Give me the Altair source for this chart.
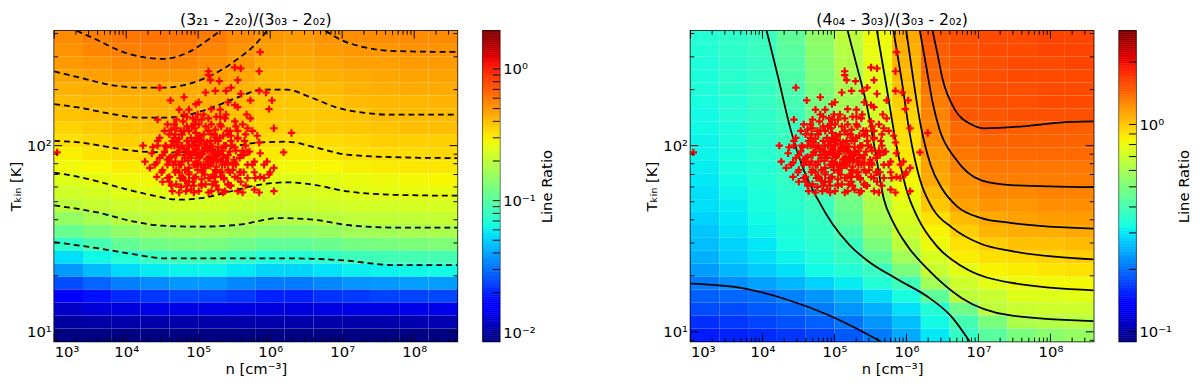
import altair as alt
import pandas as pd
import numpy as np

FONT = "DejaVu Sans"
W, H = 410, 316
CBW = 17

# ---- model grid (log10 n, log10 T) ----
LOGN_EDGES = [3.0, 3.4, 3.8, 4.2, 4.6, 5.0, 5.4, 5.8, 6.2, 6.6, 7.0, 7.4, 7.8, 8.2, 8.6]
LOGT_EDGES = [2.617, 2.547, 2.478, 2.408, 2.339, 2.269, 2.200, 2.130, 2.061, 1.991,
              1.922, 1.852, 1.783, 1.713, 1.644, 1.574, 1.505, 1.435, 1.366, 1.296,
              1.227, 1.157, 1.088, 1.018, 0.948]

# log10(line ratio), rows from top (high T) to bottom, columns low n -> high n
LEFT_LOG_RATIO = [
    [-0.27, -0.24, -0.22, -0.21, -0.21, -0.23, -0.27, -0.30, -0.31, -0.29, -0.28, -0.27, -0.27, -0.27],
    [-0.29, -0.26, -0.24, -0.23, -0.23, -0.25, -0.29, -0.32, -0.33, -0.31, -0.30, -0.30, -0.29, -0.29],
    [-0.31, -0.29, -0.27, -0.26, -0.26, -0.28, -0.31, -0.35, -0.35, -0.34, -0.32, -0.32, -0.31, -0.31],
    [-0.34, -0.32, -0.31, -0.30, -0.30, -0.31, -0.34, -0.38, -0.38, -0.36, -0.35, -0.34, -0.33, -0.33],
    [-0.37, -0.36, -0.35, -0.35, -0.35, -0.35, -0.37, -0.39, -0.40, -0.39, -0.37, -0.36, -0.35, -0.35],
    [-0.39, -0.38, -0.37, -0.36, -0.36, -0.37, -0.39, -0.42, -0.42, -0.41, -0.39, -0.38, -0.38, -0.37],
    [-0.41, -0.40, -0.39, -0.38, -0.38, -0.39, -0.41, -0.43, -0.43, -0.42, -0.41, -0.39, -0.39, -0.39],
    [-0.45, -0.43, -0.41, -0.40, -0.40, -0.41, -0.43, -0.44, -0.44, -0.43, -0.42, -0.41, -0.40, -0.40],
    [-0.48, -0.46, -0.44, -0.44, -0.44, -0.45, -0.46, -0.47, -0.48, -0.47, -0.46, -0.44, -0.44, -0.44],
    [-0.52, -0.49, -0.47, -0.46, -0.46, -0.48, -0.49, -0.51, -0.51, -0.50, -0.48, -0.47, -0.47, -0.46],
    [-0.56, -0.54, -0.51, -0.50, -0.50, -0.52, -0.54, -0.55, -0.55, -0.54, -0.52, -0.51, -0.50, -0.50],
    [-0.61, -0.58, -0.56, -0.55, -0.55, -0.56, -0.58, -0.60, -0.60, -0.59, -0.57, -0.56, -0.55, -0.54],
    [-0.65, -0.63, -0.60, -0.59, -0.58, -0.59, -0.61, -0.63, -0.63, -0.62, -0.60, -0.59, -0.58, -0.58],
    [-0.71, -0.68, -0.66, -0.65, -0.64, -0.64, -0.65, -0.67, -0.67, -0.65, -0.64, -0.64, -0.63, -0.63],
    [-0.82, -0.77, -0.72, -0.70, -0.69, -0.69, -0.71, -0.73, -0.73, -0.71, -0.70, -0.69, -0.69, -0.68],
    [-0.95, -0.89, -0.83, -0.79, -0.78, -0.78, -0.80, -0.83, -0.83, -0.81, -0.78, -0.78, -0.77, -0.76],
    [-1.11, -1.04, -0.96, -0.92, -0.90, -0.90, -0.93, -0.97, -0.97, -0.94, -0.91, -0.90, -0.89, -0.88],
    [-1.26, -1.20, -1.14, -1.09, -1.06, -1.06, -1.10, -1.15, -1.15, -1.11, -1.07, -1.06, -1.05, -1.04],
    [-1.42, -1.34, -1.27, -1.23, -1.21, -1.21, -1.24, -1.28, -1.28, -1.25, -1.22, -1.21, -1.20, -1.19],
    [-1.60, -1.54, -1.48, -1.45, -1.42, -1.42, -1.46, -1.49, -1.49, -1.46, -1.43, -1.42, -1.41, -1.41],
    [-1.78, -1.74, -1.68, -1.65, -1.62, -1.62, -1.65, -1.70, -1.70, -1.66, -1.64, -1.62, -1.62, -1.61],
    [-1.92, -1.89, -1.88, -1.86, -1.86, -1.86, -1.87, -1.88, -1.88, -1.87, -1.86, -1.86, -1.85, -1.85],
    [-2.00, -1.99, -1.98, -1.98, -1.98, -1.98, -1.98, -1.98, -1.98, -1.98, -1.98, -1.98, -1.97, -1.97],
    [-2.06, -2.06, -2.06, -2.06, -2.06, -2.06, -2.06, -2.06, -2.06, -2.06, -2.06, -2.06, -2.06, -2.06],
]

RIGHT_LOG_RATIO = [
    [-0.46, -0.44, -0.42, -0.35, -0.26, -0.18, -0.09, 0.05, 0.18, 0.19, 0.20, 0.20, 0.21, 0.21],
    [-0.46, -0.44, -0.42, -0.36, -0.27, -0.19, -0.10, 0.04, 0.17, 0.19, 0.20, 0.20, 0.21, 0.21],
    [-0.47, -0.45, -0.43, -0.37, -0.28, -0.20, -0.10, 0.03, 0.16, 0.18, 0.19, 0.20, 0.20, 0.21],
    [-0.47, -0.45, -0.43, -0.38, -0.29, -0.21, -0.11, 0.02, 0.15, 0.18, 0.19, 0.20, 0.20, 0.20],
    [-0.47, -0.45, -0.43, -0.39, -0.30, -0.22, -0.12, 0.01, 0.13, 0.18, 0.19, 0.19, 0.20, 0.20],
    [-0.48, -0.46, -0.43, -0.40, -0.31, -0.23, -0.13, -0.01, 0.12, 0.18, 0.19, 0.19, 0.20, 0.20],
    [-0.49, -0.46, -0.44, -0.41, -0.32, -0.24, -0.14, -0.02, 0.11, 0.18, 0.18, 0.19, 0.19, 0.19],
    [-0.49, -0.47, -0.44, -0.42, -0.33, -0.24, -0.15, -0.03, 0.10, 0.15, 0.18, 0.17, 0.17, 0.17],
    [-0.50, -0.47, -0.45, -0.42, -0.34, -0.25, -0.16, -0.04, 0.09, 0.15, 0.16, 0.16, 0.16, 0.16],
    [-0.50, -0.48, -0.45, -0.42, -0.35, -0.26, -0.17, -0.05, 0.07, 0.13, 0.15, 0.15, 0.15, 0.15],
    [-0.51, -0.48, -0.46, -0.43, -0.36, -0.27, -0.18, -0.06, 0.06, 0.11, 0.13, 0.13, 0.13, 0.13],
    [-0.52, -0.49, -0.46, -0.43, -0.38, -0.28, -0.19, -0.08, 0.05, 0.09, 0.12, 0.12, 0.12, 0.12],
    [-0.53, -0.50, -0.47, -0.44, -0.40, -0.30, -0.19, -0.09, 0.02, 0.08, 0.10, 0.10, 0.11, 0.11],
    [-0.53, -0.51, -0.48, -0.45, -0.42, -0.32, -0.21, -0.11, 0.00, 0.06, 0.08, 0.08, 0.09, 0.09],
    [-0.55, -0.52, -0.49, -0.46, -0.43, -0.34, -0.23, -0.13, -0.04, 0.02, 0.05, 0.06, 0.07, 0.07],
    [-0.57, -0.53, -0.50, -0.47, -0.44, -0.38, -0.26, -0.15, -0.07, -0.01, 0.03, 0.04, 0.04, 0.05],
    [-0.58, -0.55, -0.52, -0.48, -0.45, -0.42, -0.30, -0.18, -0.09, -0.04, -0.01, 0.01, 0.01, 0.02],
    [-0.60, -0.56, -0.53, -0.50, -0.47, -0.43, -0.35, -0.23, -0.13, -0.06, -0.04, -0.03, -0.02, -0.01],
    [-0.63, -0.59, -0.56, -0.53, -0.49, -0.46, -0.42, -0.30, -0.16, -0.11, -0.07, -0.06, -0.05, -0.04],
    [-0.68, -0.65, -0.62, -0.59, -0.55, -0.51, -0.46, -0.41, -0.23, -0.15, -0.11, -0.09, -0.08, -0.08],
    [-0.72, -0.71, -0.70, -0.67, -0.64, -0.60, -0.54, -0.48, -0.35, -0.18, -0.16, -0.12, -0.12, -0.11],
    [-0.75, -0.75, -0.73, -0.71, -0.68, -0.64, -0.60, -0.53, -0.46, -0.32, -0.18, -0.16, -0.15, -0.15],
    [-0.79, -0.78, -0.76, -0.74, -0.72, -0.69, -0.64, -0.58, -0.49, -0.40, -0.30, -0.21, -0.20, -0.19],
    [-0.82, -0.81, -0.80, -0.78, -0.76, -0.73, -0.68, -0.61, -0.52, -0.43, -0.36, -0.30, -0.27, -0.25],
]

# colour-bar ranges (log10 of line ratio)
LEFT_CBAR_LOG = (-2.07, 0.29)
RIGHT_CBAR_LOG = (-1.047, 0.452)

# contour lines: (log10 n, log10 T)
LEFT_CONTOURS = {
    "a": ([3.312, 3.583, 3.922, 4.505, 4.871, 5.142, 5.305],
          [2.617, 2.570, 2.508, 2.466, 2.503, 2.570, 2.617]),
    "b1": ([3.0, 3.380, 3.786, 4.193, 4.532, 4.871, 5.210, 5.549, 5.793, 5.956],
           [2.399, 2.363, 2.326, 2.311, 2.311, 2.332, 2.383, 2.466, 2.544, 2.617]),
    "b2": ([6.769, 6.973, 7.312, 7.719, 8.6],
           [2.617, 2.570, 2.528, 2.508, 2.503]),
    "c": ([3.0, 3.380, 3.786, 4.193, 4.532, 4.871, 5.210, 5.549, 5.888, 6.227, 6.566, 6.905, 7.312, 7.719, 8.6],
          [2.223, 2.202, 2.171, 2.150, 2.150, 2.166, 2.207, 2.259, 2.301, 2.301, 2.259, 2.207, 2.176, 2.166, 2.166]),
    "d": ([3.0, 3.380, 3.786, 4.193, 4.600, 5.007, 5.414, 5.820, 6.227, 6.634, 7.041, 7.719, 8.6],
          [2.026, 2.016, 1.990, 1.969, 1.964, 1.969, 1.990, 2.016, 2.021, 1.990, 1.953, 1.938, 1.933]),
    "e": ([3.0, 3.380, 3.651, 3.990, 4.329, 4.736, 5.075, 5.414, 5.820, 6.227, 6.634, 7.041, 7.719, 8.6],
          [1.855, 1.829, 1.803, 1.767, 1.736, 1.710, 1.720, 1.751, 1.788, 1.803, 1.788, 1.756, 1.736, 1.731]),
    "f": ([3.0, 3.651, 4.058, 4.505, 5.007, 5.549, 6.132, 6.634, 7.041, 7.719, 8.6],
          [1.679, 1.637, 1.596, 1.570, 1.565, 1.575, 1.611, 1.601, 1.575, 1.560, 1.560]),
    "g": ([3.0, 3.651, 4.058, 4.559, 5.278, 6.363, 7.041, 7.719, 8.6],
          [1.482, 1.446, 1.420, 1.394, 1.394, 1.394, 1.383, 1.358, 1.358]),
}

RIGHT_CONTOURS = {
    "r1": ([3.0, 3.678, 4.356, 4.898, 5.264, 5.644],
           [1.259, 1.238, 1.171, 1.093, 1.026, 0.948]),
    "r2": ([4.058, 4.220, 4.397, 4.573, 4.763, 4.980, 5.210, 5.454, 5.861, 6.322, 6.634, 6.878],
           [2.617, 2.363, 2.078, 1.870, 1.715, 1.575, 1.466, 1.383, 1.285, 1.181, 1.078, 0.948]),
    "r3": ([5.183, 5.319, 5.454, 5.576, 5.685, 5.820, 6.024, 6.322, 6.769, 7.447, 8.6],
           [2.617, 2.415, 2.207, 1.948, 1.715, 1.585, 1.456, 1.326, 1.181, 1.088, 1.057]),
    "r4": ([5.590, 5.725, 5.861, 5.997, 6.159, 6.431, 6.769, 7.447, 8.6],
           [2.617, 2.311, 2.000, 1.767, 1.611, 1.456, 1.352, 1.264, 1.223]),
    "r5": ([5.820, 5.929, 6.051, 6.186, 6.363, 6.634, 7.041, 7.447, 8.6],
           [2.617, 2.363, 2.052, 1.819, 1.663, 1.560, 1.472, 1.435, 1.389]),
    "r6": ([5.997, 6.092, 6.200, 6.336, 6.498, 6.702, 7.041, 7.447, 8.6],
           [2.617, 2.363, 2.104, 1.896, 1.767, 1.674, 1.611, 1.585, 1.554]),
    "r7": ([6.186, 6.268, 6.363, 6.458, 6.675, 7.041, 7.447, 8.6],
           [2.617, 2.440, 2.233, 2.088, 1.933, 1.813, 1.788, 1.777]),
    "r8": ([6.363, 6.431, 6.498, 6.675, 6.905, 7.081, 7.624, 8.125, 8.6],
           [2.617, 2.492, 2.363, 2.192, 2.114, 2.093, 2.104, 2.124, 2.130]),
}

# observed sources: log10 n and T [K]
SRC_LOGN = [5.142, 5.169, 5.292, 5.549, 5.847, 5.590, 4.464, 4.614, 4.803, 5.007,
            5.102, 5.237, 5.386, 5.590, 5.847, 5.942, 5.725, 5.414, 5.508, 6.024,
            4.736, 4.871, 5.183, 5.305, 5.549, 5.983, 4.437, 4.695, 4.844, 4.966,
            5.142, 5.251, 5.373, 5.508, 5.671, 5.725, 4.695, 4.912, 5.102, 5.319,
            5.685, 6.051, 6.295, 4.600, 4.776, 4.966, 5.183, 5.414, 5.658, 5.820,
            4.437, 4.641, 4.844, 5.034, 5.237, 5.454, 5.644, 5.847, 4.234, 4.370,
            4.559, 4.736, 4.912, 5.102, 5.278, 5.508, 5.685, 5.861, 6.186, 4.356,
            4.505, 4.695, 4.871, 5.047, 5.237, 5.414, 5.590, 4.261, 4.424, 4.600,
            4.776, 4.966, 5.142, 5.319, 5.508, 5.780, 5.915, 6.051, 5.983, 4.329,
            4.505, 4.695, 4.871, 5.047, 5.237, 5.414, 5.590, 5.780, 5.861, 4.424,
            4.600, 4.776, 4.966, 5.142, 5.319, 5.508, 5.685, 4.505, 4.695, 4.871,
            5.047, 5.237, 5.414, 5.590, 5.780, 6.051, 4.641, 4.831, 5.007, 5.183,
            5.373, 5.549, 5.861, 5.508, 5.142, 5.997, 3.040, 4.803, 5.007, 5.183,
            4.939, 5.142, 5.346, 5.075, 4.871, 5.210, 5.481, 4.736, 5.007, 4.803,
            5.346, 5.617, 4.939, 5.278, 4.573, 4.668, 5.549, 5.915, 5.956, 5.454,
            4.966, 4.573, 4.681, 4.790, 4.898, 4.993, 5.088, 5.183, 5.292, 5.400,
            5.495, 4.627, 4.736, 4.844, 4.939, 5.047, 5.156, 5.251, 5.359, 5.468,
            5.576, 4.546, 4.654, 4.763, 4.871, 4.980, 5.075, 5.197, 5.305, 5.414,
            5.522, 5.631, 4.708, 4.817, 4.925, 5.034, 5.129, 5.224, 5.332, 5.441,
            5.549, 4.600, 4.803, 5.007, 5.210, 5.386, 5.088, 4.898, 5.278, 5.481,
            5.685, 4.627, 4.736, 4.844, 4.953, 5.047, 5.142, 5.237, 5.346, 5.454,
            4.681, 4.790, 4.898, 4.993, 5.102, 5.210, 5.305, 5.414, 5.522, 4.708,
            4.817, 4.925, 5.020, 5.115, 5.224, 5.332, 5.169, 4.953, 4.776, 5.373,
            4.980, 5.060, 5.130, 5.210, 4.900, 5.000, 5.090, 5.170, 5.250, 4.950,
            5.040, 5.120, 5.200, 4.860, 4.930, 5.020, 5.100, 5.180, 5.270, 5.300,
            4.803, 5.075, 5.386, 4.668, 4.939, 5.305, 5.617, 4.532, 4.763, 5.142,
            5.441, 5.753, 4.464, 4.668, 4.980, 5.251, 5.549, 4.437, 4.627, 4.871,
            5.169, 5.359, 5.658, 4.532, 4.736, 4.953, 5.061, 5.278, 5.441, 5.712,
            4.464, 4.600, 4.817, 5.007, 5.197, 5.386, 5.576, 4.397, 4.573, 4.763,
            4.966, 5.142, 5.332, 5.522, 5.753, 4.492, 4.681, 4.871, 5.061, 5.251,
            5.441, 5.631, 4.573, 4.749, 4.939, 5.169, 5.359, 5.549, 5.793, 4.627,
            4.844, 5.047, 5.251, 5.454, 5.658, 4.736, 4.939, 5.142, 5.346, 5.617,
            5.847]
SRC_T = [251, 225, 222, 225, 251, 260, 205, 175, 182, 171,
         193, 197, 197, 190, 197, 193, 175, 171, 165, 175,
         156, 156, 157, 156, 161, 157, 138, 138, 143, 138,
         140, 143, 140, 135, 147, 140, 124, 127, 127, 127,
         124, 124, 117, 115, 115, 117, 115, 115, 115, 113,
         106, 106, 106, 106, 106, 106, 106, 104, 100, 98,
         98, 98, 100, 98, 98, 98, 92, 91, 92, 91,
         89, 89, 91, 91, 89, 89, 89, 82, 81, 82,
         82, 82, 81, 82, 81, 82, 79, 76, 70, 76,
         74, 74, 76, 74, 74, 74, 72, 72, 68, 68,
         68, 68, 68, 67, 68, 68, 67, 64, 62, 64,
         62, 64, 62, 64, 58, 57, 57, 57, 57, 57,
         57, 57, 318, 263, 239, 72, 92, 96, 89, 94,
         106, 120, 89, 79, 70, 70, 79, 79, 130, 120,
         113, 94, 61, 58, 84, 100, 120, 67, 82, 205,
         167, 130, 115, 135, 110, 147, 102, 130, 91, 120,
         84, 87, 72, 94, 79, 66, 87, 77, 66, 100,
         72, 100, 79, 60, 120, 89, 115, 62, 143, 81,
         127, 89, 104, 65, 140, 79, 94, 115, 72, 61,
         109, 64, 89, 100, 84, 100, 70, 58, 106, 74,
         79, 122, 109, 127, 104, 138, 96, 122, 86, 113,
         82, 67, 89, 74, 62, 82, 72, 62, 94, 92,
         74, 64, 113, 84, 68, 94, 106, 124, 100, 79,
         95, 90, 85, 92, 86, 80, 97, 78, 88, 101,
         108, 104, 99, 83, 93, 87, 76, 95, 84, 110,
         147, 147, 147, 130, 130, 130, 130, 120, 120, 120,
         120, 120, 110, 110, 110, 110, 110, 100, 100, 100,
         100, 100, 100, 93, 93, 93, 93, 93, 93, 93,
         86, 86, 86, 86, 86, 86, 86, 79, 79, 79,
         79, 79, 79, 79, 79, 72, 72, 72, 72, 72,
         72, 72, 67, 67, 67, 67, 67, 67, 67, 61,
         61, 61, 61, 61, 61, 56, 56, 56, 56, 56,
         56]

N_MAJOR_EXP = [3, 4, 5, 6, 7, 8]
T_MAJOR_EXP = [1, 2]

TITLE_LEFT = "(3₂₁ - 2₂₀)/(3₀₃ - 2₀₂)"
TITLE_RIGHT = "(4₀₄ - 3₀₃)/(3₀₃ - 2₀₂)"
X_TITLE = "n [cm⁻³]"
Y_TITLE = "Tₖᵢₙ [K]"
CB_TITLE = "Line Ratio"

# ---- jet colormap (matplotlib segment definition), sampled uniformly ----
_ts = np.linspace(0, 1, 41)
_r = np.interp(_ts, [0, 0.35, 0.66, 0.89, 1], [0, 0, 1, 1, 0.5])
_g = np.interp(_ts, [0, 0.125, 0.375, 0.64, 0.91, 1], [0, 0, 1, 1, 0, 0])
_b = np.interp(_ts, [0, 0.11, 0.34, 0.65, 1], [0.5, 1, 1, 0, 0])
JET = ["#%02x%02x%02x" % (int(round(r * 255)), int(round(g * 255)), int(round(b * 255)))
       for r, g, b in zip(_r, _g, _b)]

SUP = {"0": "⁰", "1": "¹", "2": "²", "3": "³", "4": "⁴", "5": "⁵",
       "6": "⁶", "7": "⁷", "8": "⁸", "9": "⁹", "-": "⁻"}


def pow_label(e):
    return "10" + "".join(SUP[ch] for ch in str(e))


def label_expr(exps):
    items = ", ".join("'%s': '%s'" % (str(10 ** e), pow_label(e)) for e in exps)
    return "({%s})[datum.value] || ''" % items


xs = alt.Scale(type="log", domain=[10 ** LOGN_EDGES[0], 10 ** LOGN_EDGES[-1]], nice=False)
ys = alt.Scale(type="log", domain=[10 ** LOGT_EDGES[-1], 10 ** LOGT_EDGES[0]], nice=False)
X_AXIS = alt.Axis(values=[10 ** e for e in N_MAJOR_EXP], labelExpr=label_expr(N_MAJOR_EXP))
Y_AXIS = alt.Axis(values=[10 ** e for e in T_MAJOR_EXP], labelExpr=label_expr(T_MAJOR_EXP))

N_MINOR = [k * 10 ** e for e in range(3, 9) for k in range(2, 10) if k * 10 ** e <= 10 ** LOGN_EDGES[-1]]
T_MINOR = [9] + [k * 10 for k in range(2, 10)] + [200, 300, 400]


def X(field):
    return alt.X(field, type="quantitative", scale=xs, axis=X_AXIS, title=X_TITLE)


def Y(field):
    return alt.Y(field, type="quantitative", scale=ys, axis=Y_AXIS, title=Y_TITLE)


def color_scale(lo, hi):
    return alt.Scale(domain=[lo, hi], range=JET, interpolate="rgb")


def heat_df(grid):
    rows = []
    for r, row in enumerate(grid):
        for c, v in enumerate(row):
            rows.append({"n1": 10 ** LOGN_EDGES[c], "n2": 10 ** LOGN_EDGES[c + 1],
                         "t1": 10 ** LOGT_EDGES[r + 1], "t2": 10 ** LOGT_EDGES[r], "L": v})
    return pd.DataFrame(rows)


def contour_df(contours):
    rows = []
    for name, (ln, lt) in contours.items():
        for i, (a, b) in enumerate(zip(ln, lt)):
            rows.append({"c": name, "i": i, "n": 10 ** a, "T": 10 ** b})
    return pd.DataFrame(rows)


def panel(grid, contours, lo, hi, title, dashed):
    heat = alt.Chart(heat_df(grid)).mark_rect().encode(
        x=X("n1"), x2="n2:Q", y=Y("t1"), y2="t2:Q",
        color=alt.Color("L:Q", scale=color_scale(lo, hi), legend=None),
    )
    line_kw = dict(color="black", strokeWidth=1.8, clip=True, interpolate="monotone")
    if dashed:
        line_kw["strokeDash"] = [6, 4]
    lines = alt.Chart(contour_df(contours)).mark_line(**line_kw).encode(
        x=X("n"), y=Y("T"), detail="c:N", order="i:Q",
    )
    pts = alt.Chart(pd.DataFrame({"n": [10 ** v for v in SRC_LOGN], "T": SRC_T})).mark_point(
        shape="M-1,0L1,0M0,-1L0,1", filled=False, color="#ff0000", strokeWidth=2.2, size=56, opacity=1
    ).encode(x=X("n"), y=Y("T"))

    layers = [heat, lines, pts]
    for vals, ln in ((N_MAJOR_EXP, 8), (None, 4)):
        v = [10 ** e for e in vals] if vals else N_MINOR
        base = alt.Chart(pd.DataFrame({"v": v})).mark_rule(color="black", strokeWidth=1)
        layers.append(base.encode(x=X("v"), y=alt.value(0), y2=alt.value(ln)))
        layers.append(base.encode(x=X("v"), y=alt.value(H), y2=alt.value(H - ln)))
    for vals, ln in ((T_MAJOR_EXP, 8), (None, 4)):
        v = [10 ** e for e in vals] if vals else T_MINOR
        base = alt.Chart(pd.DataFrame({"v": v})).mark_rule(color="black", strokeWidth=1)
        layers.append(base.encode(y=Y("v"), x=alt.value(0), x2=alt.value(ln)))
        layers.append(base.encode(y=Y("v"), x=alt.value(W), x2=alt.value(W - ln)))
    return alt.layer(*layers).properties(width=W, height=H, title=title)


def colorbar(lo, hi, decade_exps, tick_vals):
    steps = 160
    edges = [lo + (hi - lo) * k / steps for k in range(steps + 1)]
    df = pd.DataFrame({"a": [10 ** e for e in edges[:-1]], "b": [10 ** e for e in edges[1:]],
                       "L": [(edges[k] + edges[k + 1]) / 2 for k in range(steps)]})
    cys = alt.Scale(type="log", domain=[10 ** lo, 10 ** hi], nice=False)
    cax = alt.Axis(orient="right", values=[10 ** e for e in decade_exps],
                   labelExpr=label_expr(decade_exps), titleAngle=270, titleBaseline="top",
                   titlePadding=5, labelPadding=3)
    cs = color_scale(lo, hi)
    grad = alt.Chart(df).mark_rect(strokeWidth=0.6).encode(
        x=alt.value(0), x2=alt.value(CBW),
        y=alt.Y("a:Q", scale=cys, axis=cax, title=CB_TITLE),
        y2="b:Q",
        color=alt.Color("L:Q", scale=cs, legend=None),
        stroke=alt.Stroke("L:Q", scale=cs, legend=None),
    )
    tk = alt.Chart(pd.DataFrame({"v": tick_vals})).mark_rule(color="black", strokeWidth=1).encode(
        y=alt.Y("v:Q", scale=cys, axis=cax, title=CB_TITLE), x=alt.value(CBW - 7), x2=alt.value(CBW))
    return alt.layer(grad, tk).properties(width=CBW, height=H, title=" ")


left = panel(LEFT_LOG_RATIO, LEFT_CONTOURS, *LEFT_CBAR_LOG, TITLE_LEFT, True)
right = panel(RIGHT_LOG_RATIO, RIGHT_CONTOURS, *RIGHT_CBAR_LOG, TITLE_RIGHT, False)

left_ticks = [k * 10 ** e for e in (-2, -1) for k in range(1, 10)] + [1]
right_ticks = [k * 0.1 for k in range(1, 10)] + [1, 2]
lcb = colorbar(*LEFT_CBAR_LOG, [-2, -1, 0], left_ticks)
rcb = colorbar(*RIGHT_CBAR_LOG, [-1, 0], right_ticks)

spacer = alt.Chart(pd.DataFrame({"a": [0]})).mark_point(opacity=0).encode(
    x=alt.X("a:Q", axis=None), y=alt.Y("a:Q", axis=None)
).properties(width=46, height=10, view=alt.ViewBackground(strokeOpacity=0))

chart = alt.hconcat(left, lcb, spacer, right, rcb, spacing=22).resolve_scale(
    color="independent", stroke="independent", x="independent", y="independent"
).properties(padding=0).configure_axis(
    labelFont=FONT, titleFont=FONT, labelFontSize=15, titleFontSize=15,
    labelColor="black", titleColor="black", titleFontWeight="normal",
    grid=False, domain=False, ticks=False, tickSize=0, labelPadding=3, titlePadding=3,
).configure_title(
    font=FONT, fontSize=16, fontWeight="normal", color="black", offset=2
).configure_view(stroke="black", strokeWidth=1.5)

chart.save("out.html", embed_options={"renderer": "svg", "actions": False})
